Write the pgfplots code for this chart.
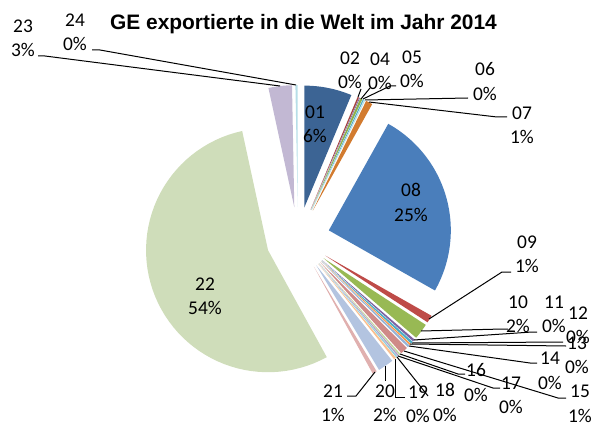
\documentclass[border=0pt]{standalone}
\usepackage{pgfplots}
\pgfplotsset{compat=1.18}
\usepackage{pgfplotstable}
\usepackage{fontspec}
\setmainfont{Carlito}
\newfontfamily\titlefont{Liberation Sans}

\definecolor{c01}{HTML}{3C6494}
\definecolor{c02}{HTML}{A5433F}
\definecolor{c03}{HTML}{7E62A1}
\definecolor{c04}{HTML}{8EB04D}
\definecolor{c05}{HTML}{4BACC6}
\definecolor{c06}{HTML}{B7DEE8}
\definecolor{c07}{HTML}{D27B2F}
\definecolor{c08}{HTML}{4A7EBB}
\definecolor{c09}{HTML}{BE4B48}
\definecolor{c10}{HTML}{98B954}
\definecolor{c11}{HTML}{7E62A1}
\definecolor{c12}{HTML}{4BACC6}
\definecolor{c13}{HTML}{F79646}
\definecolor{c14}{HTML}{95B3D7}
\definecolor{c15}{HTML}{CF8A88}
\definecolor{c16}{HTML}{C3D69B}
\definecolor{c17}{HTML}{B3A2C7}
\definecolor{c18}{HTML}{93CDDD}
\definecolor{c19}{HTML}{FAC090}
\definecolor{c20}{HTML}{B3C4E0}
\definecolor{c21}{HTML}{E0B0AF}
\definecolor{c22}{HTML}{CFDDBA}
\definecolor{c23}{HTML}{C2B8D3}
\definecolor{c24}{HTML}{B7DEE8}

% share of each chapter in percent (clockwise from 12 o'clock)
\pgfplotstableread{
id val col
01 6.3 c01
02 0.2 c02
03 0.1 c03
04 0.3 c04
05 0.15 c05
06 0.15 c06
07 0.9 c07
08 25.1 c08
09 1.0 c09
10 2.1 c10
11 0.3 c11
12 0.3 c12
13 0.2 c13
14 0.3 c14
15 1.0 c15
16 0.2 c16
17 0.2 c17
18 0.2 c18
19 0.3 c19
20 2.1 c20
21 0.6 c21
22 54.6 c22
23 3.1 c23
24 0.3 c24
}\piedata

\newcommand\lab{\fontsize{19.5}{24.5}\selectfont}
\tikzset{lbl/.style={font=\lab, align=center, inner sep=0pt},
         ldr/.style={black, line width=1bp}}

\begin{document}
\begin{tikzpicture}
\begin{axis}[width=596bp,height=426bp,scale only axis,
  xmin=0,xmax=596,ymin=0,ymax=426,y dir=reverse,
  hide axis,clip=false,no markers]
\def\cum{0}
\pgfplotsforeachungrouped \i in {0,...,23}{%
  \pgfplotstablegetelem{\i}{val}\of\piedata \let\slval\pgfplotsretval
  \pgfplotstablegetelem{\i}{col}\of\piedata \let\slcol\pgfplotsretval
  \pgfmathsetmacro\ts{90-3.6*\cum}%
  \pgfmathsetmacro\cum{\cum+\slval}%
  \pgfmathsetmacro\te{90-3.6*\cum}%
  \pgfmathsetmacro\tm{(\ts+\te)/2}%
  \pgfmathsetmacro\ax{298+32*cos(\tm)}%
  \pgfmathsetmacro\ay{239-32*sin(\tm)}%
  \edef\cmd{\noexpand\addplot[fill=\slcol, draw=none, domain=\te:\ts, samples=60]
     ({\ax+122*cos(x)},{\ay-122*sin(x)}) -- (axis cs:\ax,\ay) -- cycle;}%
  \cmd
}

% title
\node[font=\titlefont\bfseries\fontsize{21}{25}\selectfont, inner sep=0pt] at (303.5,24) {GE exportierte in die Welt im Jahr 2014};

% leader lines
\draw[ldr] (358,97) -- (361,89);
\draw[ldr] (361,99) -- (370,88);
\draw[ldr] (363,99) -- (390,86) -- (396,86);
\draw[ldr] (365,100) -- (468,98);
\draw[ldr] (369,102) -- (497,117) -- (507,117);
\draw[ldr] (429,319) -- (502,272) -- (511,272);
\draw[ldr] (421,331) -- (503,329) -- (508,329);
\draw[ldr] (414,340) -- (532,332) -- (537,332);
\draw[ldr] (412,343) -- (563,342);
\draw[ldr] (410,344) -- (566,346);
\draw[ldr] (409,346) -- (530,363) -- (537,363);
\draw[ldr] (404,351) -- (558,398) -- (566,398);
\draw[ldr] (400,354) -- (458,374) -- (465,374);
\draw[ldr] (398,356) -- (493,388) -- (500,388);
\draw[ldr] (397,357) -- (428,396);
\draw[ldr] (395,359) -- (395,397) -- (405,397);
\draw[ldr] (385,366) -- (385,381);
\draw[ldr] (375,372) -- (356,396) -- (347,396);
\draw[ldr] (280,86) -- (45,56) -- (38,56);
\draw[ldr] (296,85) -- (100,50) -- (92,50);

% labels
\node[lbl] at (315,124.5) {01\\6\%};
\node[lbl] at (350,70) {02\\0\%};
\node[lbl] at (380,71) {04\\0\%};
\node[lbl] at (412,69.5) {05\\0\%};
\node[lbl] at (485,81.5) {06\\0\%};
\node[lbl] at (522,125) {07\\1\%};
\node[lbl] at (411,202.5) {08\\25\%};
\node[lbl] at (527,254.5) {09\\1\%};
\node[lbl] at (518,314.5) {10\\2\%};
\node[lbl] at (554,314.5) {11\\0\%};
\node[lbl] at (578,325) {12\\0\%};
\node[lbl] at (577,355) {13\\0\%};
\node[lbl] at (550,371) {14\\0\%};
\node[lbl] at (580,404) {15\\1\%};
\node[lbl] at (476,382.5) {16\\0\%};
\node[lbl] at (511,395.5) {17\\0\%};
\node[lbl] at (445,402.5) {18\\0\%};
\node[lbl] at (418,404) {19\\0\%};
\node[lbl] at (385,403.5) {20\\2\%};
\node[lbl] at (333,403.5) {21\\1\%};
\node[lbl] at (205,296.5) {22\\54\%};
\node[lbl] at (23,38.5) {23\\3\%};
\node[lbl] at (75,32.5) {24\\0\%};
\end{axis}
\path (current axis.south west) rectangle (current axis.north east);
\end{tikzpicture}
\end{document}
